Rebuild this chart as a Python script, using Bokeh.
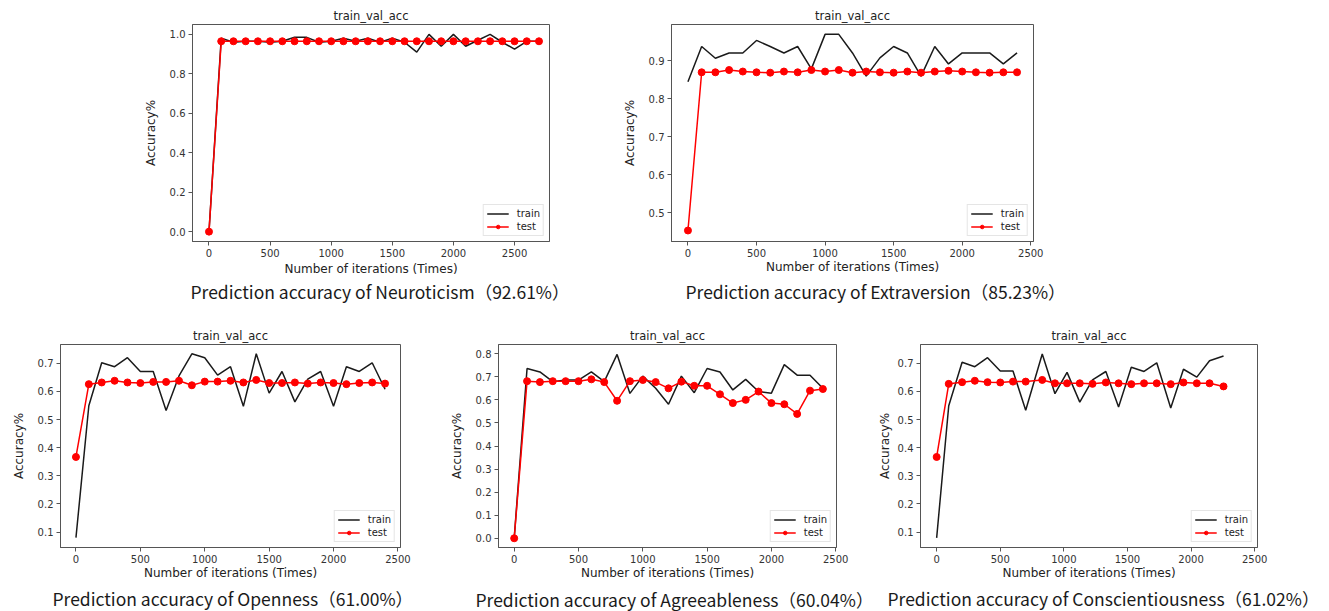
from bokeh.plotting import figure
from bokeh.layouts import column, row
from bokeh.models import Spacer, FixedTicker, NumeralTickFormatter, Range1d, Legend
from bokeh.core.properties import value
from bokeh.embed import file_html
from bokeh.resources import INLINE

# ---------------- data ----------------
steps_100 = [i * 100 for i in range(25)]          # 0..2400
steps_n = [i * 100 for i in range(28)]            # 0..2700

neuro_x = steps_n
neuro_train = [0.0, 0.98, 0.96, 0.965, 0.965, 0.96, 0.965, 0.985, 0.985, 0.96, 0.965,
               0.98, 0.965, 0.98, 0.96, 0.98, 0.96, 0.91, 1.0, 0.94, 1.0, 0.94, 0.97,
               1.0, 0.96, 0.925, 0.965, 0.965]
neuro_test = [0.0] + [0.965] * 27

extra_x = steps_100
extra_train = [0.845, 0.938, 0.907, 0.921, 0.921, 0.954, 0.938, 0.921, 0.938, 0.879, 0.97,
               0.97, 0.921, 0.86, 0.908, 0.938, 0.921, 0.86, 0.938, 0.892, 0.921, 0.921,
               0.921, 0.892, 0.921]
extra_test = [0.453, 0.870, 0.870, 0.876, 0.872, 0.870, 0.869, 0.872, 0.870, 0.876, 0.872,
              0.876, 0.869, 0.872, 0.870, 0.869, 0.872, 0.869, 0.872, 0.874, 0.872, 0.870,
              0.869, 0.870, 0.870]

open_x = steps_100
open_train = [0.08, 0.549, 0.702, 0.688, 0.72, 0.671, 0.671, 0.532, 0.655, 0.734, 0.72,
              0.658, 0.688, 0.547, 0.734, 0.594, 0.671, 0.563, 0.644, 0.671, 0.547, 0.688,
              0.671, 0.702, 0.608]
open_test = [0.367, 0.626, 0.632, 0.638, 0.632, 0.630, 0.634, 0.634, 0.638, 0.622, 0.635,
             0.635, 0.638, 0.632, 0.641, 0.630, 0.630, 0.632, 0.628, 0.632, 0.630, 0.626,
             0.630, 0.632, 0.628]

agree_x = steps_100
agree_train = [0.0, 0.736, 0.721, 0.679, 0.686, 0.686, 0.721, 0.679, 0.797, 0.628, 0.703,
               0.65, 0.581, 0.703, 0.631, 0.736, 0.721, 0.643, 0.689, 0.636, 0.629, 0.753,
               0.707, 0.707, 0.65]
agree_test = [0.0, 0.681, 0.677, 0.681, 0.681, 0.681, 0.689, 0.677, 0.596, 0.681, 0.686,
              0.677, 0.65, 0.679, 0.661, 0.661, 0.624, 0.586, 0.6, 0.636, 0.586, 0.581,
              0.539, 0.64, 0.647]

consc_x = [0, 95, 200, 300, 400, 500, 600, 700, 830, 930, 1025, 1125, 1225, 1330, 1430,
           1530, 1630, 1730, 1840, 1940, 2045, 2145, 2255]
consc_train = [0.079, 0.549, 0.704, 0.688, 0.72, 0.673, 0.673, 0.533, 0.733, 0.592, 0.668,
               0.562, 0.641, 0.671, 0.545, 0.686, 0.671, 0.702, 0.541, 0.679, 0.651, 0.709,
               0.726]
consc_test = [0.367, 0.627, 0.633, 0.638, 0.633, 0.632, 0.635, 0.635, 0.641, 0.629, 0.629,
              0.629, 0.627, 0.632, 0.629, 0.626, 0.629, 0.629, 0.626, 0.632, 0.629, 0.629,
              0.618]

captions = [
    "Prediction accuracy of Neuroticism（92.61%）",
    "Prediction accuracy of Extraversion（85.23%）",
    "Prediction accuracy of Openness（61.00%）",
    "Prediction accuracy of Agreeableness（60.04%）",
    "Prediction accuracy of Conscientiousness（61.02%）",
]
y_ticks = [
    [0.0, 0.2, 0.4, 0.6, 0.8, 1.0],
    [0.5, 0.6, 0.7, 0.8, 0.9],
    [0.1, 0.2, 0.3, 0.4, 0.5, 0.6, 0.7],
    [0.0, 0.1, 0.2, 0.3, 0.4, 0.5, 0.6, 0.7, 0.8],
    [0.1, 0.2, 0.3, 0.4, 0.5, 0.6, 0.7],
]
x_ticks = [0, 500, 1000, 1500, 2000, 2500]

FONT = "DejaVu Sans"
CAP_FONT = "Noto Sans CJK SC"


def make_panel(xs, tr, te, yt, width, height, bl, br, bt, bb, xr, yr,
               xlab_standoff, ylab_standoff):
    p = figure(width=width, height=height, output_backend="svg", toolbar_location=None,
               min_border_left=bl, min_border_right=br, min_border_top=bt, min_border_bottom=bb,
               x_range=Range1d(*xr), y_range=Range1d(*yr))
    p.title.text = "train_val_acc"
    p.title.align = "center"
    p.title.text_font = FONT
    p.title.text_font_size = "11.5px"
    p.title.text_font_style = "normal"
    p.title.text_color = "#222222"
    p.title.standoff = 3
    p.outline_line_color = "#555555"
    p.outline_line_width = 1
    p.grid.visible = False
    for ax in (p.xaxis[0], p.yaxis[0]):
        ax.axis_line_color = "#555555"
        ax.major_tick_line_color = "#555555"
        ax.minor_tick_line_color = None
        ax.major_tick_out = 4
        ax.major_tick_in = 0
        ax.major_label_text_font = FONT
        ax.major_label_text_font_size = "10px"
        ax.major_label_text_color = "#333333"
        ax.axis_label_text_font = FONT
        ax.axis_label_text_font_size = "12px"
        ax.axis_label_text_font_style = "normal"
        ax.axis_label_text_color = "#222222"
        ax.major_label_standoff = 3
    p.xaxis.ticker = FixedTicker(ticks=x_ticks)
    p.yaxis.ticker = FixedTicker(ticks=yt)
    p.yaxis.formatter = NumeralTickFormatter(format="0.0")
    p.xaxis.axis_label = "Number of iterations (Times)"
    p.yaxis.axis_label = "Accuracy%"
    p.xaxis.axis_label_standoff = xlab_standoff
    p.yaxis.axis_label_standoff = ylab_standoff

    l1 = p.line(xs, tr, line_color="#1a1a1a", line_width=1.5)
    l2 = p.line(xs, te, line_color="#ff0000", line_width=1.5)
    s2 = p.scatter(xs, te, size=7, fill_color="#ff0000", line_color="#ff0000")
    leg = Legend(items=[("train", [l1]), ("test", [l2, s2])], location="bottom_right",
                 label_text_font=FONT, label_text_font_size="10px", label_text_color="#222222",
                 border_line_color="#cccccc", background_fill_alpha=1.0,
                 glyph_width=22, glyph_height=9, label_height=9, spacing=2,
                 padding=3, margin=5, label_standoff=8)
    p.add_layout(leg, "center")
    return p


def caption_strip(height, xs, ys, texts):
    c = figure(width=1329, height=height, output_backend="svg", toolbar_location=None,
               min_border=0, x_axis_location=None, y_axis_location=None,
               x_range=Range1d(0, 1329), y_range=Range1d(height, 0))
    c.outline_line_color = None
    c.grid.visible = False
    c.text(x=xs, y=ys, text=texts, text_font=value(CAP_FONT), text_font_size="17.5px",
           text_color="#1a1a1a", text_baseline="middle", text_align="left")
    return c


p1 = make_panel(neuro_x, neuro_train, neuro_test, y_ticks[0],
                460, 278, 51, 51, 24, 36, (-135, 2786), (-0.05, 1.05), 2, 9)
p2 = make_panel(extra_x, extra_train, extra_test, y_ticks[1],
                470, 278, 61, 47, 22, 34, (-120, 2520), (0.424, 0.996), 0, 9)
p3 = make_panel(open_x, open_train, open_test, y_ticks[2],
                440, 279, 60, 40, 37, 38, (-120, 2520), (0.045, 0.767), 0, 9)
p4 = make_panel(agree_x, agree_train, agree_test, y_ticks[3],
                434, 279, 58, 38, 38, 36, (-122, 2506), (-0.04, 0.84), 0, 9)
p5 = make_panel(consc_x, consc_train, consc_test, y_ticks[4],
                455, 279, 42, 72, 38, 36, (-127, 2522), (0.045, 0.767), 0, 3)

cap_top = caption_strip(28, [190, 685], [13, 12.5], captions[:2])
cap_bottom = caption_strip(26, [52, 475, 887], [13, 13.5, 12.5], captions[2:])

top = row(Spacer(width=140, height=278), p1, Spacer(width=10, height=278), p2)
bottom = row(p3, p4, p5)
layout = column(top, cap_top, bottom, cap_bottom)

open("out.html", "w").write(file_html(layout, INLINE))
